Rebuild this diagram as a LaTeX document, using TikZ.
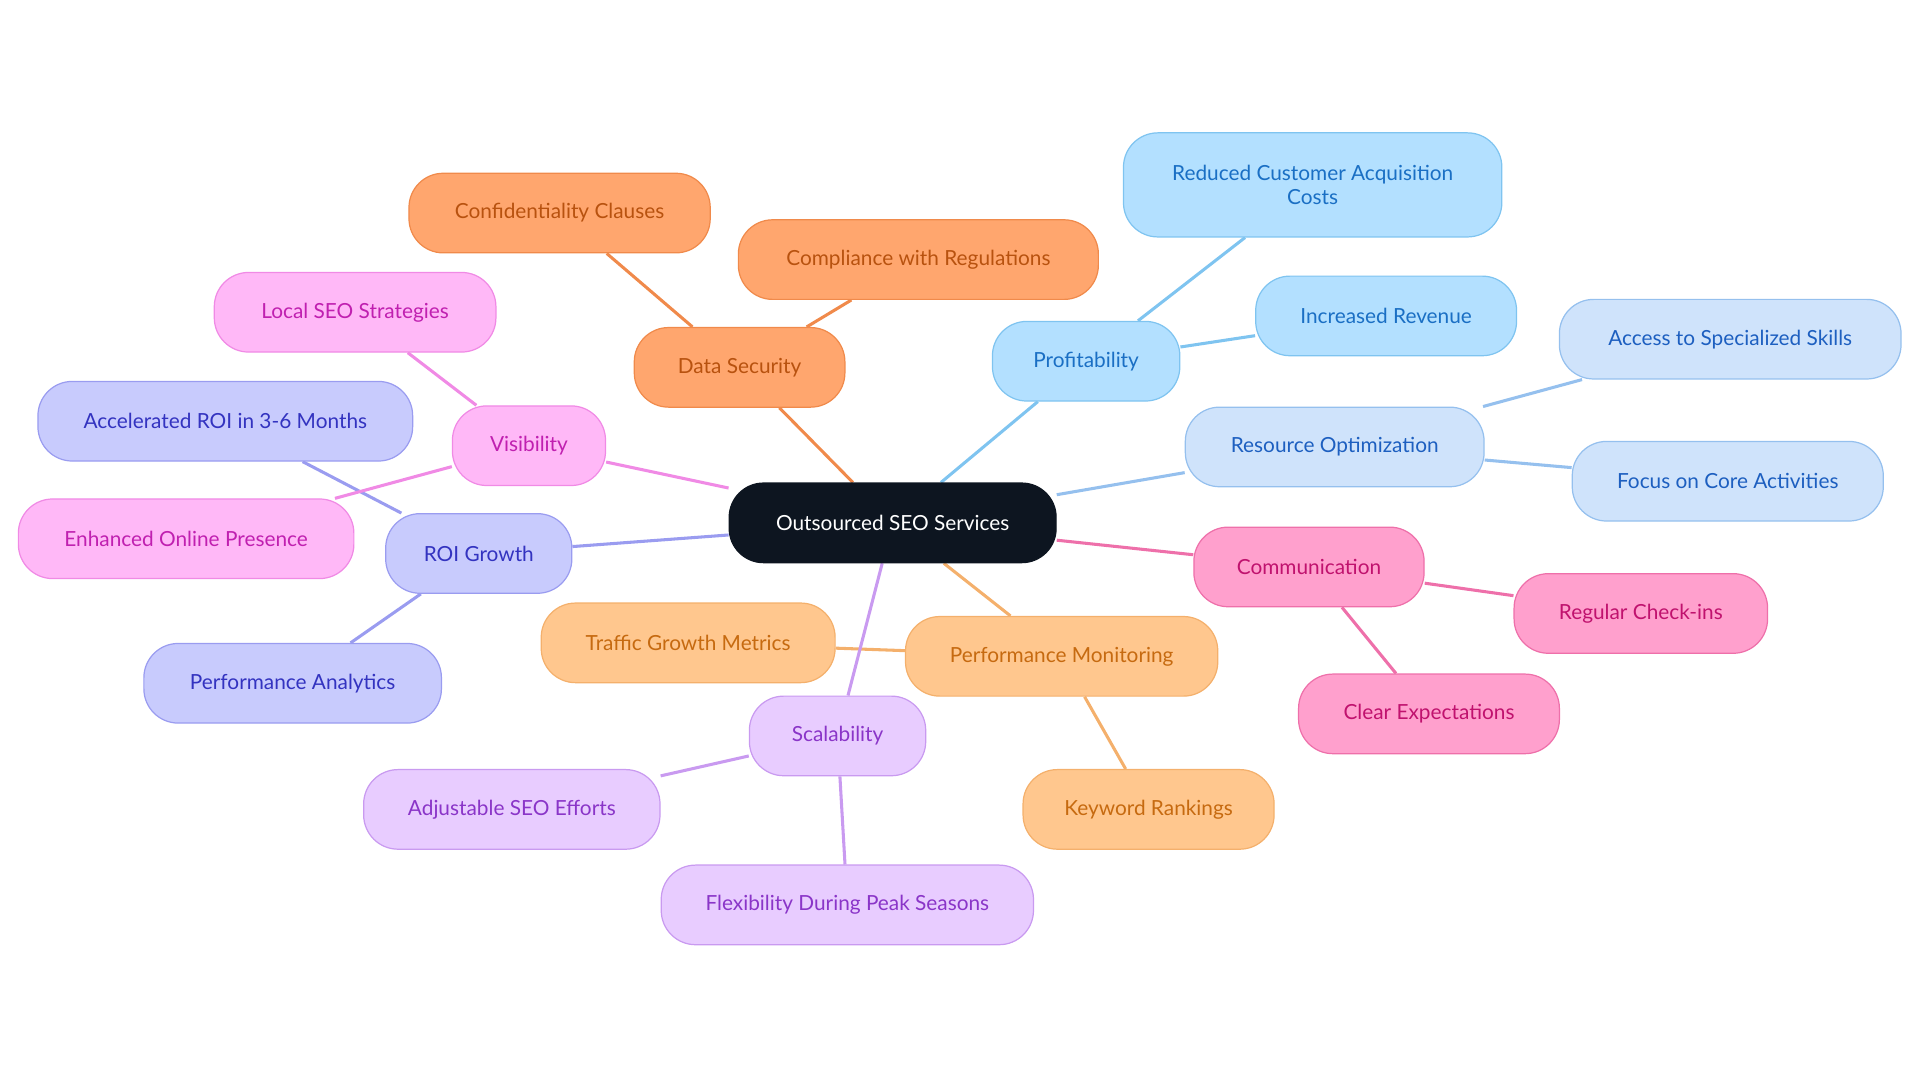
\documentclass[tikz,border=0pt]{standalone}
\usepackage{fontspec}
\setmainfont{Lato}
\usetikzlibrary{backgrounds}
\definecolor{oF}{HTML}{FFA66E}\definecolor{oS}{HTML}{F08A4B}\definecolor{oT}{HTML}{B8520F}
\definecolor{bF}{HTML}{B3E0FF}\definecolor{bS}{HTML}{7FC4F0}\definecolor{bT}{HTML}{1A6FC4}
\definecolor{lF}{HTML}{CFE3FB}\definecolor{lS}{HTML}{95C0EE}\definecolor{lT}{HTML}{1D5FC0}
\definecolor{pF}{HTML}{FFA0CD}\definecolor{pS}{HTML}{EE70AA}\definecolor{pT}{HTML}{C0126E}
\definecolor{yF}{HTML}{FFC78E}\definecolor{yS}{HTML}{F4B06C}\definecolor{yT}{HTML}{C66A10}
\definecolor{vF}{HTML}{E8CCFF}\definecolor{vS}{HTML}{C99AF0}\definecolor{vT}{HTML}{8A35C8}
\definecolor{rF}{HTML}{C8CBFD}\definecolor{rS}{HTML}{9A9CF0}\definecolor{rT}{HTML}{3333C0}
\definecolor{mF}{HTML}{FFB8F7}\definecolor{mS}{HTML}{F08AE5}\definecolor{mT}{HTML}{C020B0}
\definecolor{cF}{HTML}{0D1520}
\tikzset{
 box/.style={draw, line width=1pt, rounded corners=28pt, minimum height=65pt, align=center, font=\fontsize{17}{20}\selectfont, inner xsep=0pt},
 O/.style={box, fill=oF, draw=oS, text=oT},
 B/.style={box, fill=bF, draw=bS, text=bT},
 L/.style={box, fill=lF, draw=lS, text=lT},
 P/.style={box, fill=pF, draw=pS, text=pT},
 Y/.style={box, fill=yF, draw=yS, text=yT},
 V/.style={box, fill=vF, draw=vS, text=vT},
 R/.style={box, fill=rF, draw=rS, text=rT},
 M/.style={box, fill=mF, draw=mS, text=mT},
 ln/.style={line width=2.5pt}
}
\begin{document}
\begin{tikzpicture}[x=1pt,y=-1pt]
\useasboundingbox (0,0) rectangle (1568,885);
\node[box, fill=cF, draw=cF, text=white, minimum width=267pt] (c) at (729,427) {Outsourced SEO Services};
\node[O, minimum width=172pt] (ds) at (604,300) {Data Security};
\node[O, minimum width=246pt] (cc) at (457,174) {Confidentiality Clauses};
\node[O, minimum width=294pt] (cr) at (750,212) {Compliance with Regulations};
\node[B, minimum width=153pt] (pr) at (887,295) {Profitability};
\node[B, minimum width=309pt, minimum height=85pt] (rc) at (1072,151) {Reduced Customer Acquisition\\Costs};
\node[B, minimum width=213pt] (ir) at (1132,258) {Increased Revenue};
\node[L, minimum width=244pt] (ro) at (1090,365) {Resource Optimization};
\node[L, minimum width=279pt] (as) at (1413,277) {Access to Specialized Skills};
\node[L, minimum width=254pt] (fc) at (1411,393) {Focus on Core Activities};
\node[P, minimum width=188pt] (co) at (1069,463) {Communication};
\node[P, minimum width=207pt] (rg) at (1340,501) {Regular Check-ins};
\node[P, minimum width=213pt] (ce) at (1167,583) {Clear Expectations};
\node[Y, minimum width=255pt] (pm) at (867,536) {Performance Monitoring};
\node[Y, minimum width=240pt] (tg) at (562,525) {Traffic Growth Metrics};
\node[Y, minimum width=205pt] (kr) at (938,661) {Keyword Rankings};
\node[V, minimum width=144pt] (sc) at (684,601) {Scalability};
\node[V, minimum width=242pt] (ad) at (418,661) {Adjustable SEO Efforts};
\node[V, minimum width=304pt] (fl) at (692,739) {Flexibility During Peak Seasons};
\node[R, minimum width=152pt] (roi) at (391,452) {ROI Growth};
\node[R, minimum width=306pt] (ac) at (184,344) {Accelerated ROI in 3-6 Months};
\node[R, minimum width=243pt] (pa) at (239,558) {Performance Analytics};
\node[M, minimum width=125pt] (vi) at (432,364) {Visibility};
\node[M, minimum width=230pt] (ls) at (290,255) {Local SEO Strategies};
\node[M, minimum width=274pt] (eo) at (152,440) {Enhanced Online Presence};
\begin{scope}[on background layer]
\draw[ln, oS] (c)--(ds) (ds)--(cc) (ds)--(cr);
\draw[ln, bS] (c)--(pr) (pr)--(rc) (pr)--(ir);
\draw[ln, lS] (c)--(ro) (ro)--(as) (ro)--(fc);
\draw[ln, pS] (c)--(co) (co)--(rg) (co)--(ce);
\draw[ln, yS] (c)--(pm) (pm)--(tg) (pm)--(kr);
\draw[ln, vS] (c)--(sc) (sc)--(ad) (sc)--(fl);
\draw[ln, rS] (c)--(roi) (roi)--(ac) (roi)--(pa);
\draw[ln, mS] (c)--(vi) (vi)--(ls) (vi)--(eo);
\end{scope}
\end{tikzpicture}
\end{document}
